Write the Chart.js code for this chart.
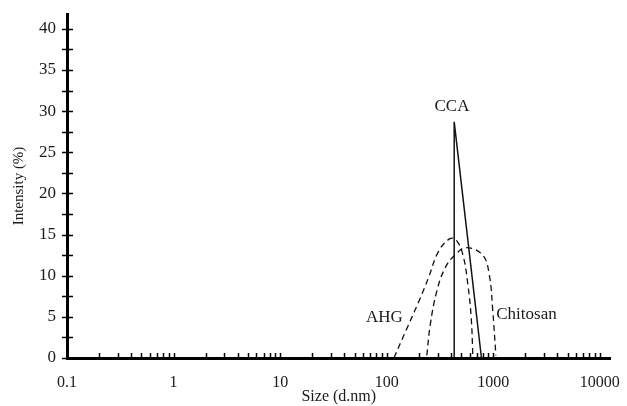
<!DOCTYPE html>
<html>
<head>
<meta charset="utf-8">
<script src="https://cdn.jsdelivr.net/npm/chart.js@4.4.1/dist/chart.umd.min.js"></script>
<style>
    html, body { margin: 0; padding: 0; background: #fff; }
    #wrap { width: 627px; height: 406px; position: relative; }
</style>
</head>
<body>
<div id="wrap"><canvas id="dlsChart"></canvas></div>
<script>
// Size distribution by intensity
const ahgSize = [117, 150, 199, 246, 305, 392, 451, 520, 578, 621, 643];
const ahgIntensity = [0, 3.2, 6.8, 9.7, 12.9, 14.5, 14.3, 12.5, 8.9, 4.9, 0.3];

const chitosanSize = [238, 256, 295, 352, 435, 559, 796, 918, 986, 1059];
const chitosanIntensity = [0.3, 4.0, 8.1, 10.9, 12.5, 13.4, 12.5, 10.1, 6.0, 0.3];

const ccaSize = [430, 430, 775];
const ccaIntensity = [0, 28.7, 0];

// axis ticks
const xMajorTicks = [0.1, 1, 10, 100, 1000, 10000];
const yTicks = [0, 2.5, 5, 7.5, 10, 12.5, 15, 17.5, 20, 22.5, 25, 27.5, 30, 32.5, 35, 37.5, 40];

// curve labels (size, intensity)
const curveLabels = [
    { text: 'CCA', size: 410, intensity: 30.5 },
    { text: 'AHG', size: 95, intensity: 4.9 },
    { text: 'Chitosan', size: 2050, intensity: 5.3 }
];

const serif = "'Liberation Serif', 'Times New Roman', serif";
const ink = '#1a1a1a';

function toPoints(xs, ys) {
    return xs.map((x, i) => ({ x: x, y: ys[i] }));
}

// major ticks plus 2..9 minors for every decade
function logTickValues() {
    const vals = [];
    xMajorTicks.forEach((d, i) => {
        vals.push(d);
        if (i < xMajorTicks.length - 1) {
            for (let k = 2; k <= 9; k++) vals.push(+(d * k).toPrecision(3));
        }
    });
    return vals;
}

// inward tick marks + curve labels
const decorPlugin = {
    id: 'decor',
    afterDraw(chart) {
        const ctx = chart.ctx;
        const xs = chart.scales.x;
        const ys = chart.scales.y;
        ctx.save();
        ctx.strokeStyle = '#000';
        ctx.lineWidth = 1.5;
        xs.ticks.forEach(t => {
            const px = Math.round(xs.getPixelForValue(t.value)) + 0.5;
            ctx.beginPath();
            ctx.moveTo(px, ys.bottom);
            ctx.lineTo(px, ys.bottom - 5);
            ctx.stroke();
        });
        ys.ticks.forEach(t => {
            const py = Math.round(ys.getPixelForValue(t.value)) + 0.5;
            ctx.beginPath();
            ctx.moveTo(xs.left - 5, py);
            ctx.lineTo(xs.left + 6, py);
            ctx.stroke();
        });

        ctx.fillStyle = ink;
        ctx.font = '17px ' + serif;
        ctx.textAlign = 'center';
        ctx.textBaseline = 'middle';
        curveLabels.forEach(l => {
            ctx.fillText(l.text, xs.getPixelForValue(l.size), ys.getPixelForValue(l.intensity));
        });
        ctx.restore();
    }
};

const dashedLine = {
    borderColor: '#111',
    borderWidth: 1.3,
    borderDash: [6, 4],
    pointRadius: 0,
    tension: 0.4,
    fill: false
};

new Chart(document.getElementById('dlsChart'), {
    type: 'line',
    data: {
        datasets: [
            Object.assign({ label: 'AHG', data: toPoints(ahgSize, ahgIntensity) }, dashedLine),
            Object.assign({ label: 'Chitosan', data: toPoints(chitosanSize, chitosanIntensity) }, dashedLine),
            {
                label: 'CCA',
                data: toPoints(ccaSize, ccaIntensity),
                borderColor: '#111',
                borderWidth: 1.5,
                pointRadius: 0,
                tension: 0,
                fill: false
            }
        ]
    },
    options: {
        responsive: true,
        maintainAspectRatio: false,
        animation: false,
        layout: { padding: { top: 14, right: 9, left: 0, bottom: 0 } },
        plugins: {
            legend: { display: false },
            tooltip: { enabled: false }
        },
        scales: {
            x: {
                type: 'logarithmic',
                min: 0.1,
                max: 12600,
                afterBuildTicks: scale => {
                    scale.ticks = logTickValues().map(v => ({ value: v }));
                },
                afterFit: scale => { scale.height = 48; },
                grid: { display: false },
                border: { display: true, color: '#000', width: 3 },
                ticks: {
                    autoSkip: false,
                    maxRotation: 0,
                    padding: 7,
                    color: ink,
                    font: { family: serif, size: 16 },
                    callback: v => xMajorTicks.includes(v) ? String(v) : ''
                },
                title: {
                    display: true,
                    text: 'Size (d.nm)',
                    color: ink,
                    font: { family: serif, size: 16 },
                    padding: { top: 0, bottom: 0 }
                }
            },
            y: {
                min: 0,
                max: 41.8,
                afterBuildTicks: scale => {
                    scale.ticks = yTicks.map(v => ({ value: v }));
                },
                afterFit: scale => { scale.width = 67; },
                grid: { display: false },
                border: { display: true, color: '#000', width: 3 },
                ticks: {
                    autoSkip: false,
                    padding: 3,
                    color: ink,
                    font: { family: serif, size: 17 },
                    callback: v => (v % 5 === 0) ? String(v) : ''
                },
                title: {
                    display: true,
                    text: 'Intensity (%)',
                    color: ink,
                    font: { family: serif, size: 15 },
                    padding: { top: 10, bottom: 0 }
                }
            }
        }
    },
    plugins: [decorPlugin]
});
</script>
</body>
</html>
